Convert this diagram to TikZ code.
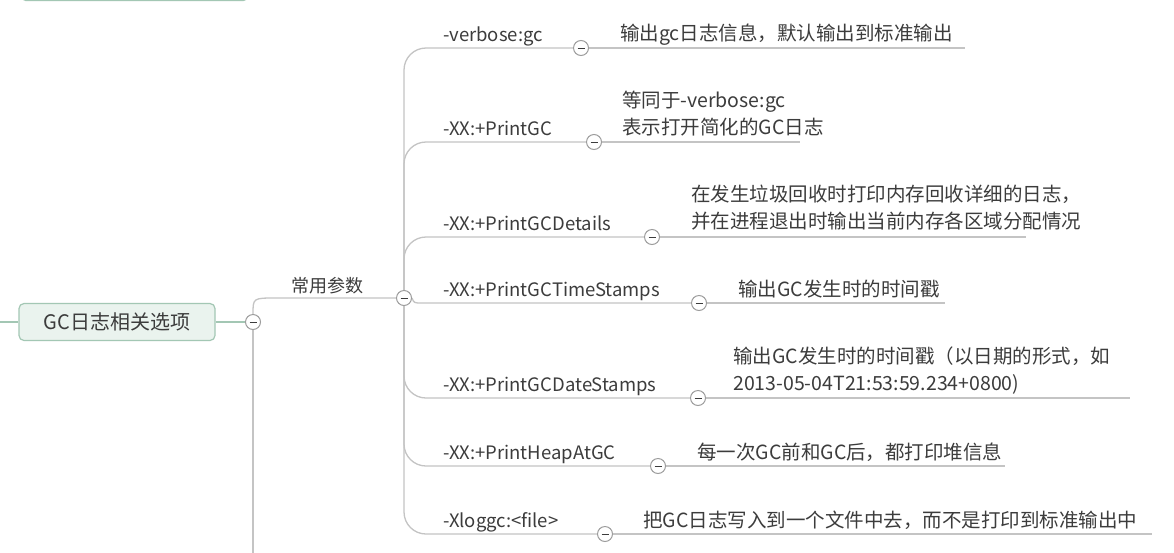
\documentclass[tikz,border=0pt]{standalone}
\usepackage{fontspec}
\setmainfont{Noto Sans CJK SC}
\usetikzlibrary{backgrounds}
\definecolor{lnc}{HTML}{C4C4C4}
\definecolor{txc}{HTML}{3C3C3C}
\definecolor{boxfill}{HTML}{EAF3EE}
\definecolor{boxline}{HTML}{A3C7B4}
\begin{document}
\begin{tikzpicture}[x=1pt,y=-1pt,
  ln/.style={draw=lnc,line width=1.3pt},
  gl/.style={draw=boxline,line width=1.3pt},
  txt/.style={anchor=base west,inner sep=0pt,text=txc,font=\fontsize{18.5}{27}\selectfont,align=left},
  desc/.style={txt,font=\fontsize{19.5}{27}\selectfont},
  mainbox/.style={draw=boxline,fill=boxfill,line width=1.2pt,rounded corners=5pt,text=txc,font=\fontsize{20}{24}\selectfont,inner sep=0pt},
  fold/.style={circle,draw=lnc!80!black,fill=white,line width=1pt,minimum size=15pt,inner sep=0pt,
    path picture={\draw[txc,line width=1pt] (path picture bounding box.center) +(-3.5,0) -- +(3.5,0);}}
]
\useasboundingbox (0,0) rectangle (1174,552);

% top partial box
\node[mainbox,minimum width=228pt,minimum height=40pt,anchor=south west] (top) at (20,1) {};

% main topic
\node[mainbox,minimum width=196pt,minimum height=37pt] (gc) at (117,322) {GC日志相关选项};
\coordinate (L) at (0,322);
\node[fold] (c1) at (253,322) {};
\coordinate (down) at (253,553);
\node[txt,anchor=base,font=\fontsize{18}{27}\selectfont] (cy) at (327,292) {常用参数};
\node[fold] (c0) at (404,298) {};

% branch labels
\node[txt] (pv) at (443,41) {-verbose:gc};
\node[txt] (pp) at (443,135) {-XX:+PrintGC};
\node[txt] (pd) at (443,230) {-XX:+PrintGCDetails};
\node[txt] (pt) at (443,296) {-XX:+PrintGCTimeStamps};
\node[txt] (pa) at (443,391) {-XX:+PrintGCDateStamps};
\node[txt] (ph) at (443,459) {-XX:+PrintHeapAtGC};
\node[txt] (px) at (443,527) {-Xloggc:<file>};

% branch folds
\node[fold] (fv) at (581,48) {};
\node[fold] (fp) at (594,142) {};
\node[fold] (fd) at (652,237) {};
\node[fold] (ft) at (699,303) {};
\node[fold] (fa) at (698,398) {};
\node[fold] (fh) at (658,466) {};
\node[fold] (fx) at (605,534) {};

% descriptions (multi-line: anchor at last-line baseline)
\node[desc] (dv) at (620,40) {输出gc日志信息，默认输出到标准输出};
\node[desc] (dp) at (622,134) {等同于-verbose:gc\\表示打开简化的GC日志};
\node[desc] (dd) at (691,228) {在发生垃圾回收时打印内存回收详细的日志，\\并在进程退出时输出当前内存各区域分配情况};
\node[desc] (dt) at (738,296) {输出GC发生时的时间戳};
\node[desc] (da) at (733,390) {输出GC发生时的时间戳（以日期的形式，如\\2013-05-04T21:53:59.234+0800)};
\node[desc] (dh) at (697,459) {每一次GC前和GC后，都打印堆信息};
\node[desc] (dx) at (643,527) {把GC日志写入到一个文件中去，而不是打印到标准输出中};

\coordinate (ev) at (965,48);
\coordinate (ep) at (800,142);
\coordinate (ed) at (1026,237);
\coordinate (et) at (945,303);
\coordinate (ea) at (1130,398);
\coordinate (eh) at (1005,466);
\coordinate (ex) at (1152,534);
\coordinate (tj) at (422,303);

\begin{pgfonlayer}{background}
  \fill[white] (0,0) rectangle (1174,552);
  \draw[gl] (L) -- (gc);
  \draw[gl] (gc) -- (c1);
  \draw[ln] (c1) -- (down);
  \draw[ln] (c1.north) .. controls (253,298) .. (276,298) -- (c0);
  \draw[ln,rounded corners=22pt] (c0) |- (fv);
  \draw[ln,rounded corners=22pt] (c0) |- (fp);
  \draw[ln,rounded corners=22pt] (c0) |- (fd);
  \draw[ln] (c0.east) .. controls (414,303) .. (tj) -- (ft);
  \draw[ln,rounded corners=22pt] (c0) |- (fa);
  \draw[ln,rounded corners=22pt] (c0) |- (fh);
  \draw[ln,rounded corners=22pt] (c0) |- (fx);
  \draw[ln] (fv) -- (ev);
  \draw[ln] (fp) -- (ep);
  \draw[ln] (fd) -- (ed);
  \draw[ln] (ft) -- (et);
  \draw[ln] (fa) -- (ea);
  \draw[ln] (fh) -- (eh);
  \draw[ln] (fx) -- (ex);
\end{pgfonlayer}
\end{tikzpicture}
\end{document}
